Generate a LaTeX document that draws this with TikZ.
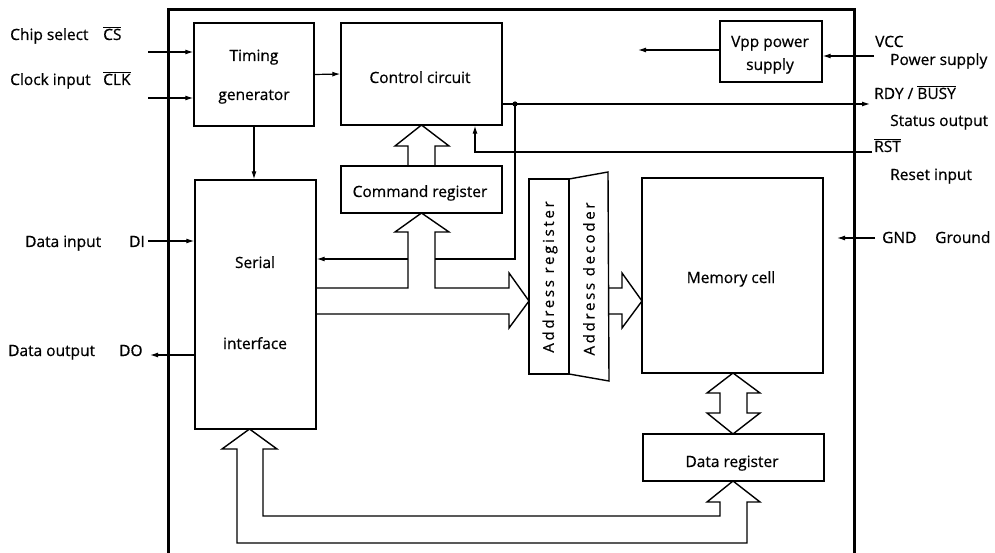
\documentclass[tikz,border=0pt]{standalone}
\usepackage{fontspec}
\setmainfont[FakeBold=0.6]{Open Sans}
\usetikzlibrary{arrows.meta,calc}
\newcommand\ovl[1]{$\overline{\hbox{#1}}$}
\begin{document}
\begin{tikzpicture}[x=1pt,y=-1pt,
  box/.style={draw, line width=1.4pt, inner sep=0pt},
  wire/.style={line width=1.2pt},
  sig/.style={wire, -{Latex[length=8pt,width=5pt]}},
  bus/.style={draw, line width=1.4pt, line join=miter},
  lbl/.style={font=\fontsize{15.5}{18}\selectfont, inner sep=0pt},
  vlbl/.style={lbl, rotate=90, font=\fontsize{15}{18}\selectfont\addfontfeature{LetterSpace=18}},
]
\useasboundingbox[fill=white] (0,0) rectangle (995,553);

% chip outline
\draw[line width=3pt] (168,553) -- (168,10) -- (854,10) -- (854,553);

% blocks
\node[box, minimum width=120pt, minimum height=103pt] (tg) at (254,74.5) {};
\node[box, minimum width=161pt, minimum height=102pt] (ct) at (421.5,74) {};
\node[box, minimum width=161pt, minimum height=47pt]  (cr) at (421.5,189.5) {};
\node[box, minimum width=121pt, minimum height=249pt] (sr) at (255.5,304.5) {};
\node[box, minimum width=102pt, minimum height=61pt]  (vp) at (771,51.5) {};
\node[box, minimum width=40pt,  minimum height=195pt] (ar) at (549,276.5) {};
\node[box, minimum width=181pt, minimum height=195pt] (mc) at (732.5,275.5) {};
\node[box, minimum width=181pt, minimum height=47pt]  (dr) at (733.5,457.5) {};
% address decoder (trapezoid)
\coordinate (ad1) at (569,179);
\coordinate (ad2) at (608,172);
\coordinate (ad3) at (609,381);
\coordinate (ad4) at (569,374);
\draw[line width=1.4pt, line join=miter] (ad1) -- (ad2) -- (ad3) -- (ad4) -- cycle;

% block texts
\node[lbl, anchor=base] (tgA) at (254,61) {Timing};
\node[lbl, anchor=base] (tgB) at (254,100) {generator};
\node[lbl, anchor=base] (ctA) at (420,83) {Control circuit};
\node[lbl, anchor=base] (crA) at (420,197) {Command register};
\node[lbl, anchor=base] (srA) at (255,268) {Serial};
\node[lbl, anchor=base] (srB) at (255,349) {interface};
\node[lbl, anchor=base] (vpA) at (770,47) {Vpp power};
\node[lbl, anchor=base] (vpB) at (770,70) {supply};
\node[lbl, anchor=base] (mcA) at (731,283) {Memory cell};
\node[lbl, anchor=base] (drA) at (732,467) {Data register};
\node[vlbl] (arA) at (550,277) {Address register};
\node[vlbl] (adA) at (589,279) {Address decoder};

% pin labels, left side
\node[lbl, anchor=base west] (csL)  at (10,40)  {Chip select};
\node[lbl, anchor=base west] (csP)  at (103,40) {\ovl{CS}};
\node[lbl, anchor=base west] (clkL) at (10,85)  {Clock input};
\node[lbl, anchor=base west] (clkP) at (103,85) {\ovl{CLK}};
\node[lbl, anchor=base west] (diL)  at (25,247) {Data input};
\node[lbl, anchor=base west] (diP)  at (129,247) {DI};
\node[lbl, anchor=base west] (doL)  at (8,356)  {Data output};
\node[lbl, anchor=base west] (doP)  at (119,356) {DO};
% pin labels, right side
\node[lbl, anchor=base west] (vccP) at (875,47)  {VCC};
\node[lbl, anchor=base west] (vccL) at (890,65)  {Power supply};
\node[lbl, anchor=base west] (rdyP) at (874,99)  {RDY / \ovl{BUSY}};
\node[lbl, anchor=base west] (rdyL) at (890,126) {Status output};
\node[lbl, anchor=base west] (rstP) at (874,152) {\ovl{RST}};
\node[lbl, anchor=base west] (rstL) at (890,180) {Reset input};
\node[lbl, anchor=base west] (gndP) at (882,243) {GND};
\node[lbl, anchor=base west] (gndL) at (935,243) {Ground};

% pin ends
\coordinate (csin)  at (148,52);
\coordinate (clkin) at (148,98);
\coordinate (diin)  at (148,241);
\coordinate (doout) at (150,355);
\coordinate (vcc)   at (874,56);
\coordinate (rdy)   at (870,104);
\coordinate (rst)   at (872,152);
\coordinate (gnd)   at (875,238);
\coordinate (gndend) at (837,238);
\coordinate (vppout) at (638,50);
\coordinate (jn)    at (515,104);
\coordinate (rstx)  at (475,152);
\coordinate (fbA)   at (435,259);
\coordinate (fbB)   at (408,259);

% signal lines
\draw[sig] (csin) -- (csin -| tg.west);
\draw[sig] (clkin) -- (clkin -| tg.west);
\draw[sig] (diin) -- (diin -| sr.west);
\draw[sig] (doout -| sr.west) -- (doout);
\draw[sig] (tg.east) -- (ct.west);
\draw[sig] (tg.south) -- (tg.south |- sr.north);
\draw[sig] (jn -| ct.east) -- (rdy);
\fill (jn) circle (2.6pt);
\draw[wire] (jn) |- (fbA);
\draw[sig] (fbB) -- (fbB -| sr.east);
\draw[sig] (rst) -| (rstx |- ct.south);
\draw[sig] (vcc) -- (vcc -| vp.east);
\draw[sig] (vp.west |- vppout) -- (vppout);
\draw[sig] (gnd) -- (gndend);

% hollow bus arrows
% command register -> control circuit
\draw[bus] (408,166) -- (408,146) -- (395,146) -- (421.5,125) -- (449,146) -- (435,146) -- (435,166);
% serial bus -> command register and address register
\draw[bus] (316,288) -- (408,288) -- (408,232) -- (395,232) -- (421.5,213) -- (449,232) -- (435,232)
  -- (435,288) -- (509,288) -- (509,273) -- (529,301) -- (509,328) -- (509,314) -- (316,314);
% address decoder -> memory cell
\draw[bus] (608.5,288) -- (622,288) -- (622,273) -- (642,301) -- (622,328) -- (622,314) -- (608.8,314);
% memory cell <-> data register
\draw[bus] (720,393) -- (707,393) -- (733,373) -- (760,393) -- (747,393) -- (747,413) -- (760,413)
  -- (733,434) -- (707,413) -- (720,413) -- cycle;
% data register <-> serial interface
\draw[bus] (720,502) -- (707,502) -- (733,481) -- (760,502) -- (747,502) -- (747,543) -- (237,543)
  -- (237,449) -- (222,449) -- (249.5,429) -- (277,449) -- (263,449) -- (263,516) -- (720,516) -- cycle;
\end{tikzpicture}
\end{document}
